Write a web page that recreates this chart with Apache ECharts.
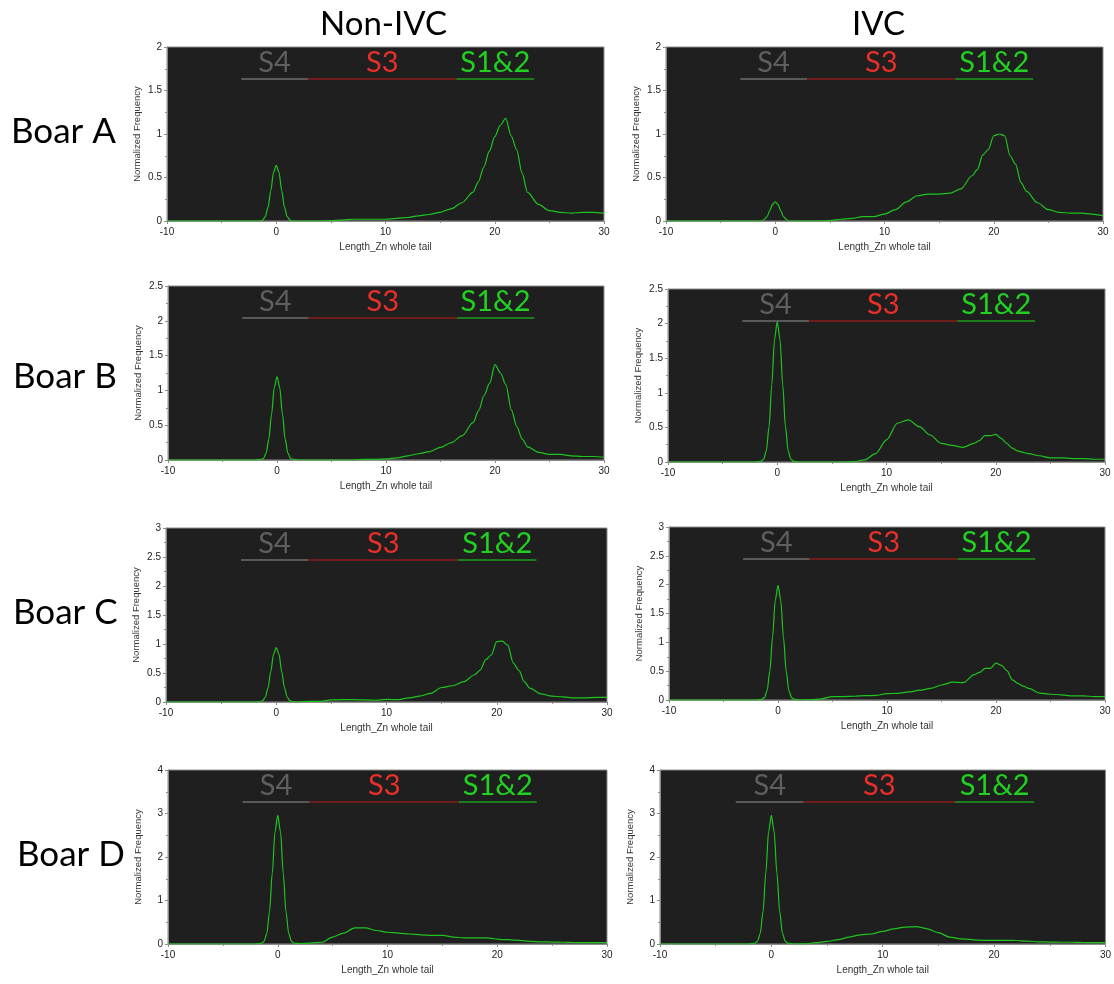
<!DOCTYPE html>
<html>
<head>
<meta charset="utf-8">
<title>Length_Zn whole tail</title>
<script src="https://cdn.jsdelivr.net/npm/echarts@6/dist/echarts.min.js"></script>
<style>
  html, body { margin: 0; padding: 0; background: #fff; }
  #main { width: 1114px; height: 984px; }
</style>
</head>
<body>
<div id="main"></div>
<script>
// x positions (Length_Zn whole tail)
var lengths = [-10, -5, -2, -1.5, -1.25, -1, -0.75, -0.5, -0.25, 0, 0.25, 0.5, 0.75, 1, 1.25, 1.5,
  2, 3, 4, 5, 6, 7, 8, 9, 10, 11, 12, 13, 14, 15, 16, 17, 18,
  18.5, 19, 19.5, 20, 20.5, 21, 21.5, 22, 22.5, 23,
  24, 25, 26, 27, 28, 29, 30];

// Normalized frequency, one array per panel
var nonIvcA = [0, 0, 0, 0, 0.01, 0.05, 0.16, 0.35, 0.56, 0.64, 0.56, 0.35, 0.16, 0.05, 0.01, 0,
  0, 0, 0, 0.005, 0.01, 0.02, 0.02, 0.02, 0.02, 0.03, 0.04, 0.06, 0.075, 0.1, 0.14, 0.21, 0.33,
  0.45, 0.62, 0.8, 0.97, 1.1, 1.18, 0.98, 0.82, 0.55, 0.33,
  0.19, 0.12, 0.1, 0.09, 0.1, 0.1, 0.09];
var ivcA = [0, 0, 0, 0, 0, 0.02, 0.05, 0.12, 0.19, 0.22, 0.19, 0.12, 0.05, 0.02, 0, 0,
  0, 0, 0, 0.005, 0.02, 0.03, 0.05, 0.05, 0.08, 0.13, 0.22, 0.29, 0.31, 0.31, 0.32, 0.37, 0.52,
  0.59, 0.76, 0.82, 0.98, 1.0, 0.98, 0.75, 0.65, 0.44, 0.34,
  0.21, 0.13, 0.1, 0.09, 0.09, 0.08, 0.06];
var nonIvcB = [0, 0, 0, 0.01, 0.02, 0.1, 0.3, 0.66, 1.04, 1.2, 1.04, 0.66, 0.3, 0.1, 0.02, 0.01,
  0, 0, 0, 0, 0, 0, 0.01, 0.01, 0.015, 0.03, 0.06, 0.09, 0.12, 0.18, 0.25, 0.35, 0.54,
  0.71, 0.93, 1.1, 1.37, 1.25, 1.08, 0.72, 0.48, 0.3, 0.19,
  0.11, 0.08, 0.08, 0.06, 0.05, 0.05, 0.04];
var ivcB = [0, 0, 0, 0.01, 0.04, 0.16, 0.51, 1.12, 1.77, 2.03, 1.77, 1.12, 0.51, 0.16, 0.04, 0.01,
  0, 0, 0, 0, 0, 0.005, 0.03, 0.12, 0.32, 0.56, 0.61, 0.51, 0.39, 0.27, 0.24, 0.21, 0.27,
  0.31, 0.38, 0.38, 0.4, 0.34, 0.27, 0.2, 0.16, 0.14, 0.12,
  0.09, 0.06, 0.06, 0.05, 0.05, 0.04, 0.04];
var nonIvcC = [0, 0, 0, 0.005, 0.02, 0.08, 0.24, 0.52, 0.82, 0.94, 0.82, 0.52, 0.24, 0.08, 0.02, 0.005,
  0, 0.01, 0.01, 0.035, 0.04, 0.04, 0.035, 0.03, 0.045, 0.04, 0.07, 0.1, 0.15, 0.25, 0.28, 0.35, 0.47,
  0.55, 0.73, 0.81, 1.04, 1.05, 0.98, 0.67, 0.55, 0.35, 0.24,
  0.14, 0.1, 0.09, 0.07, 0.07, 0.08, 0.08];
var ivcC = [0, 0, 0, 0.01, 0.04, 0.16, 0.5, 1.09, 1.73, 1.99, 1.73, 1.09, 0.5, 0.16, 0.04, 0.01,
  0, 0.005, 0.02, 0.06, 0.06, 0.065, 0.075, 0.08, 0.11, 0.115, 0.14, 0.17, 0.2, 0.26, 0.31, 0.3, 0.44,
  0.48, 0.55, 0.55, 0.64, 0.6, 0.51, 0.35, 0.29, 0.24, 0.2,
  0.12, 0.1, 0.09, 0.07, 0.07, 0.06, 0.06];
var nonIvcD = [0, 0, 0, 0.015, 0.06, 0.24, 0.74, 1.63, 2.58, 2.96, 2.58, 1.63, 0.74, 0.24, 0.06, 0.015,
  0.01, 0.02, 0.04, 0.16, 0.25, 0.37, 0.37, 0.31, 0.27, 0.25, 0.23, 0.21, 0.2, 0.2, 0.16, 0.14, 0.14,
  0.14, 0.14, 0.13, 0.11, 0.1, 0.1, 0.09, 0.085, 0.07, 0.06,
  0.05, 0.045, 0.04, 0.035, 0.03, 0.03, 0.03];
var ivcD = [0, 0, 0, 0.015, 0.06, 0.24, 0.74, 1.63, 2.58, 2.96, 2.58, 1.63, 0.74, 0.24, 0.06, 0.015,
  0, 0.005, 0.03, 0.06, 0.1, 0.16, 0.21, 0.23, 0.29, 0.35, 0.39, 0.4, 0.35, 0.26, 0.16, 0.12, 0.1,
  0.09, 0.085, 0.085, 0.085, 0.085, 0.085, 0.085, 0.08, 0.07, 0.065,
  0.05, 0.045, 0.04, 0.04, 0.035, 0.03, 0.03];

var boars = ['Boar A', 'Boar B', 'Boar C', 'Boar D'];
var groups = ['Non-IVC', 'IVC'];
var panels = [[nonIvcA, ivcA], [nonIvcB, ivcB], [nonIvcC, ivcC], [nonIvcD, ivcD]];
var yMax = [2, 2.5, 3, 4];
var yStep = [0.5, 0.5, 0.5, 1];

// stage bands drawn on top of each panel
var stageNames = ['S4', 'S3', 'S1&2'];
var stageBounds = [-3.2, 2.9, 16.5, 23.6];
var stageTextColor = ['#5f5f5f', '#e8302a', '#22d022'];
var stageLineColor = ['#6e6e6e', '#8a1c1c', '#1e9e1e'];

// layout of the 8 plot areas [left, top, width, height]
var boxes = [
  [[167, 47, 437, 174], [666, 47, 437, 174]],
  [[168, 286, 436, 174], [668, 289, 437, 173]],
  [[166, 528, 441, 174], [669, 527, 436, 173]],
  [[168, 770, 439, 174], [660, 770, 446, 174]]
];

var axisFont = 'Liberation Sans, Arial, sans-serif';
var grid = [], xAxis = [], yAxis = [], series = [];

boars.forEach(function (b, r) {
  groups.forEach(function (g, c) {
    var i = grid.length;
    var box = boxes[r][c];
    grid.push({
      left: box[0], top: box[1], width: box[2], height: box[3],
      show: true, backgroundColor: '#1f1f1f', borderColor: '#8c8c8c', borderWidth: 1
    });
    xAxis.push({
      gridIndex: i, type: 'value', min: -10, max: 30, interval: 10,
      name: 'Length_Zn whole tail', nameLocation: 'middle', nameGap: 21,
      nameTextStyle: { fontSize: 10, color: '#333', fontFamily: axisFont },
      axisLine: { show: true, onZero: false, lineStyle: { color: '#8c8c8c', width: 1 } },
      axisTick: { show: true, length: 3, lineStyle: { color: '#8c8c8c' } },
      minorTick: { show: true, splitNumber: 2, length: 2, lineStyle: { color: '#8c8c8c' } },
      splitLine: { show: false },
      axisLabel: { fontSize: 10, color: '#222', margin: 6, fontFamily: axisFont }
    });
    yAxis.push({
      gridIndex: i, type: 'value', min: 0, max: yMax[r], interval: yStep[r],
      name: 'Normalized Frequency', nameLocation: 'middle', nameGap: 25,
      nameTextStyle: { fontSize: 9.5, color: '#333', fontFamily: axisFont },
      axisLine: { show: true, onZero: false, lineStyle: { color: '#8c8c8c', width: 1 } },
      axisTick: { show: true, length: 3, lineStyle: { color: '#8c8c8c' } },
      minorTick: { show: true, splitNumber: 2, length: 2, lineStyle: { color: '#8c8c8c' } },
      splitLine: { show: false },
      axisLabel: { fontSize: 10, color: '#222', margin: 5, fontFamily: axisFont }
    });
    var vals = panels[r][c];
    var yLine = yMax[r] * 0.816;
    series.push({
      type: 'line', xAxisIndex: i, yAxisIndex: i,
      data: lengths.map(function (x, k) { return [x, vals[k]]; }),
      showSymbol: false, smooth: 0.3, smoothMonotone: 'x',
      lineStyle: { color: '#1fc41f', width: 1.2 },
      silent: true, animation: false,
      markLine: {
        silent: true, animation: false, symbol: ['none', 'none'],
        data: stageNames.map(function (n, s) {
          return [
            {
              name: n, coord: [stageBounds[s], yLine],
              lineStyle: { color: stageLineColor[s], width: 1.6, type: 'solid' },
              label: {
                show: true, position: 'insideMiddleTop', distance: 2, formatter: n,
                color: stageTextColor[s], fontSize: 29, fontFamily: 'Lato, Noto Sans, sans-serif'
              }
            },
            { coord: [stageBounds[s + 1], yLine] }
          ];
        })
      }
    });
  });
});

var headFont = 'Lato, Noto Sans, sans-serif';
var graphic = [
  { type: 'text', left: 320, top: 8, style: { text: groups[0], fontSize: 33, fontFamily: headFont, fill: '#000' } },
  { type: 'text', left: 852, top: 8, style: { text: groups[1], fontSize: 33, fontFamily: headFont, fill: '#000' } }
];
var rowTop = [114, 359, 595, 837];
var rowLeft = [11, 13, 13, 17];
boars.forEach(function (b, r) {
  graphic.push({ type: 'text', left: rowLeft[r], top: rowTop[r], style: { text: b, fontSize: 35, fontFamily: headFont, fill: '#000' } });
});

var chart = echarts.init(document.getElementById('main'));
chart.setOption({
  backgroundColor: '#fff',
  animation: false,
  grid: grid,
  xAxis: xAxis,
  yAxis: yAxis,
  series: series,
  graphic: graphic
});
</script>
</body>
</html>
